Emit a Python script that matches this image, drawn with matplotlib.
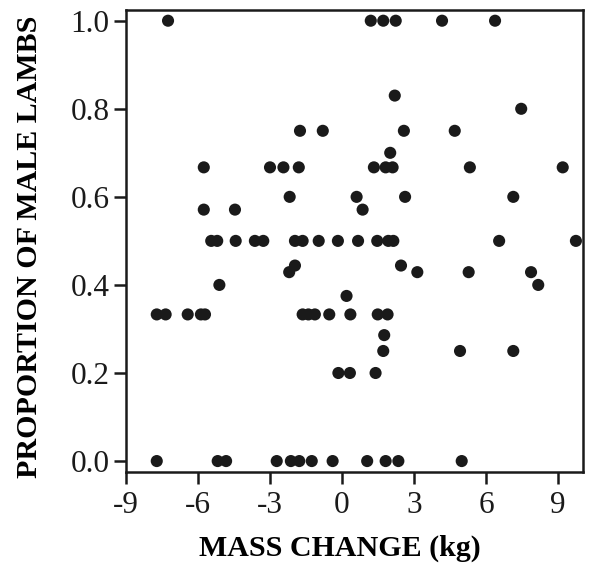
import matplotlib
matplotlib.use("Agg")
import matplotlib.pyplot as plt

# Mass change (kg) and proportion of male lambs
mass_change = [
    -7.25, 1.2, 1.72, 2.24, 4.17, 6.38,
    2.2, 7.47,
    -1.75, -0.8, 2.58, 4.7,
    2.01,
    -5.76, -3.0, -2.44, -1.8, 1.33, 1.82, 2.11, 5.33, 9.2,
    -2.18, 0.61, 2.63, 7.14,
    -5.76, -4.46, 0.86,
    -5.45, -5.2, -4.43, -3.63, -3.28, -1.96, -1.64, -0.97, -0.17, 0.67,
    1.47, 1.93, 2.14, 6.55, 9.75,
    -1.96, -2.2, 2.46, 3.14, 5.28, 7.88,
    -5.11, 8.18,
    0.19,
    -7.72, -7.35, -6.43, -5.88, -5.71, -1.64, -1.4, -1.13, -0.53, 0.35,
    1.49, 1.9,
    1.76,
    1.72, 4.92, 7.14,
    -0.15, 0.33, 1.4,
    -7.72, -5.18, -4.83, -2.72, -2.13, -1.78, -1.26, -0.39, 1.05, 1.82,
    2.35, 4.99,
]
prop_male = [
    1.0, 1.0, 1.0, 1.0, 1.0, 1.0,
    0.83, 0.8,
    0.75, 0.75, 0.75, 0.75,
    0.7,
    0.667, 0.667, 0.667, 0.667, 0.667, 0.667, 0.667, 0.667, 0.667,
    0.6, 0.6, 0.6, 0.6,
    0.571, 0.571, 0.571,
    0.5, 0.5, 0.5, 0.5, 0.5, 0.5, 0.5, 0.5, 0.5, 0.5,
    0.5, 0.5, 0.5, 0.5, 0.5,
    0.444, 0.429, 0.444, 0.429, 0.429, 0.429,
    0.4, 0.4,
    0.375,
    0.333, 0.333, 0.333, 0.333, 0.333, 0.333, 0.333, 0.333, 0.333, 0.333,
    0.333, 0.333,
    0.286,
    0.25, 0.25, 0.25,
    0.2, 0.2, 0.2,
    0.0, 0.0, 0.0, 0.0, 0.0, 0.0, 0.0, 0.0, 0.0, 0.0,
    0.0, 0.0,
]

x_ticks = [-9, -6, -3, 0, 3, 6, 9]
y_ticks = [0.0, 0.2, 0.4, 0.6, 0.8, 1.0]
y_tick_labels = ["0.0", "0.2", "0.4", "0.6", "0.8", "1.0"]

plt.rcParams["font.family"] = ["Liberation Serif", "DejaVu Serif"]

fig = plt.figure(figsize=(5.89, 5.64), dpi=100)
ax = fig.add_axes([0.214, 0.163, 0.776, 0.819])

ax.scatter(mass_change, prop_male, s=76, color="#1a1a1a", edgecolors="none", zorder=3)

ax.set_xlim(-9.0, 10.05)
ax.set_ylim(-0.025, 1.024)
ax.set_xticks(x_ticks)
ax.set_xticklabels([str(t) for t in x_ticks])
ax.set_yticks(y_ticks)
ax.set_yticklabels(y_tick_labels)

for s in ax.spines.values():
    s.set_linewidth(1.8)
    s.set_color("#1a1a1a")
ax.tick_params(axis="both", direction="out", length=8.5, width=1.8,
               labelsize=22.5, colors="#1a1a1a", pad=3.5)
ax.tick_params(axis="x", pad=5)

ax.set_xlabel("MASS CHANGE (kg)", fontsize=21.6, fontweight="bold")
ax.set_ylabel("PROPORTION OF MALE LAMBS", fontsize=21.6, fontweight="bold")
ax.xaxis.set_label_coords(0.467, -0.136)
ax.yaxis.set_label_coords(-0.182, 0.488)

fig.savefig("out.png", dpi=100)
